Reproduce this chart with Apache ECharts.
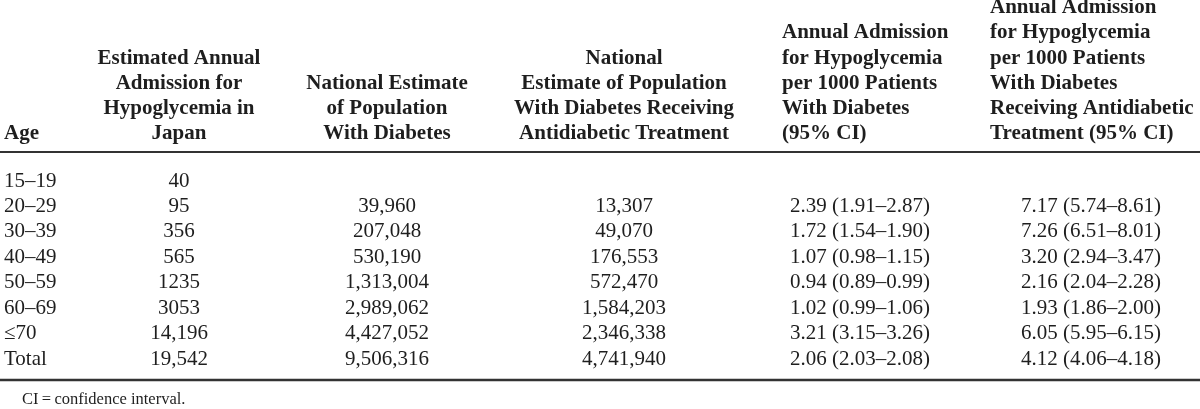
<!DOCTYPE html>
<html><head><meta charset="utf-8">
<script src="https://cdn.jsdelivr.net/npm/echarts@6/dist/echarts.min.js"></script>
<style>html,body{margin:0;padding:0;background:#fff;}#c{width:1200px;height:409px;}</style>
</head><body><div id="c"></div>
<script>
// ---- data ----
const ages = ['15\u201319', '20\u201329', '30\u201339', '40\u201349', '50\u201359', '60\u201369', '\u226470', 'Total'];
const admissions = ['40', '95', '356', '565', '1235', '3053', '14,196', '19,542'];
const popDiabetes = [null, '39,960', '207,048', '530,190', '1,313,004', '2,989,062', '4,427,052', '9,506,316'];
const popTreated = [null, '13,307', '49,070', '176,553', '572,470', '1,584,203', '2,346,338', '4,741,940'];
const rateDiabetes = [null, '2.39 (1.91\u20132.87)', '1.72 (1.54\u20131.90)', '1.07 (0.98\u20131.15)', '0.94 (0.89\u20130.99)', '1.02 (0.99\u20131.06)', '3.21 (3.15\u20133.26)', '2.06 (2.03\u20132.08)'];
const rateTreated = [null, '7.17 (5.74\u20138.61)', '7.26 (6.51\u20138.01)', '3.20 (2.94\u20133.47)', '2.16 (2.04\u20132.28)', '1.93 (1.86\u20132.00)', '6.05 (5.95\u20136.15)', '4.12 (4.06\u20134.18)'];
const headerAge = ['Age'];
const headerAdmissions = ['Estimated Annual', 'Admission for', 'Hypoglycemia in', 'Japan'];
const headerPopDiabetes = ['National Estimate', 'of Population', 'With Diabetes'];
const headerPopTreated = ['National', 'Estimate of Population', 'With Diabetes Receiving', 'Antidiabetic Treatment'];
const headerRateDiabetes = ['Annual Admission', 'for Hypoglycemia', 'per 1000 Patients', 'With Diabetes', '(95% CI)'];
const headerRateTreated = ['Annual Admission', 'for Hypoglycemia', 'per 1000 Patients', 'With Diabetes', 'Receiving Antidiabetic', 'Treatment (95% CI)'];
const footnote = 'CI\u2009=\u2009confidence interval.';

// ---- layout ----
const FONT = '"Liberation Serif", "Times New Roman", serif';
const FS = 21;
const TXT = '#1e1e1e';
const RULE = '#333';
const colX = [4, 179, 387, 624, 790, 1021];
const colAlign = ['left', 'center', 'center', 'center', 'left', 'left'];
const headX = [4, 179, 387, 624, 782, 990];
const headAlign = ['left', 'center', 'center', 'center', 'left', 'left'];
const headLastY = 134, headLineH = 25.3;
const ruleTopY = 152, ruleBottomY = 380;
const rowFirstY = 181, rowPitch = 25.45;

const columns = [null, admissions, popDiabetes, popTreated, rateDiabetes, rateTreated];
const headers = [headerAge, headerAdmissions, headerPopDiabetes, headerPopTreated, headerRateDiabetes, headerRateTreated];

const cells = [];
for (let c = 1; c < columns.length; c++) {
  columns[c].forEach((v, r) => { if (v !== null) cells.push({ value: [c, r], text: v }); });
}

const graphics = [];
headers.forEach((lines, c) => {
  const n = lines.length;
  lines.forEach((t, i) => {
    graphics.push({
      type: 'text', x: headX[c], y: headLastY - (n - 1 - i) * headLineH,
      style: { text: t, fill: TXT, fontFamily: FONT, fontSize: FS, fontWeight: 'bold', align: headAlign[c], verticalAlign: 'middle' }
    });
  });
});
graphics.push({ type: 'line', shape: { x1: 0, y1: ruleTopY, x2: 1200, y2: ruleTopY }, style: { stroke: RULE, lineWidth: 2 } });
graphics.push({ type: 'line', shape: { x1: 0, y1: ruleBottomY, x2: 1200, y2: ruleBottomY }, style: { stroke: RULE, lineWidth: 2.5 } });
graphics.push({ type: 'text', x: 22, y: 400, style: { text: footnote, fill: TXT, fontFamily: FONT, fontSize: 16.5, align: 'left', verticalAlign: 'middle' } });

const gridTop = rowFirstY - rowPitch / 2;
const gridBottom = 409 - (gridTop + rowPitch * ages.length);

const chart = echarts.init(document.getElementById('c'), null, { renderer: 'canvas' });
chart.setOption({
  animation: false,
  backgroundColor: '#fff',
  grid: { left: 0, right: 0, top: gridTop, bottom: gridBottom, containLabel: false, outerBoundsMode: 'none' },
  xAxis: { type: 'value', min: 0, max: 1200, show: false },
  yAxis: {
    type: 'category', data: ages, inverse: true,
    axisLine: { show: false }, axisTick: { show: false }, splitLine: { show: false },
    axisLabel: { interval: 0, align: 'left', margin: -4, color: TXT, fontFamily: FONT, fontSize: FS }
  },
  graphic: graphics,
  series: [{
    type: 'custom',
    coordinateSystem: 'cartesian2d',
    data: cells,
    renderItem: function (params, api) {
      const c = api.value(0), r = api.value(1);
      const p = api.coord([colX[c], r]);
      return {
        type: 'text', x: p[0], y: p[1],
        style: { text: cells[params.dataIndex].text, fill: TXT, fontFamily: FONT, fontSize: FS, align: colAlign[c], verticalAlign: 'middle' }
      };
    }
  }]
});
</script>
</body></html>
